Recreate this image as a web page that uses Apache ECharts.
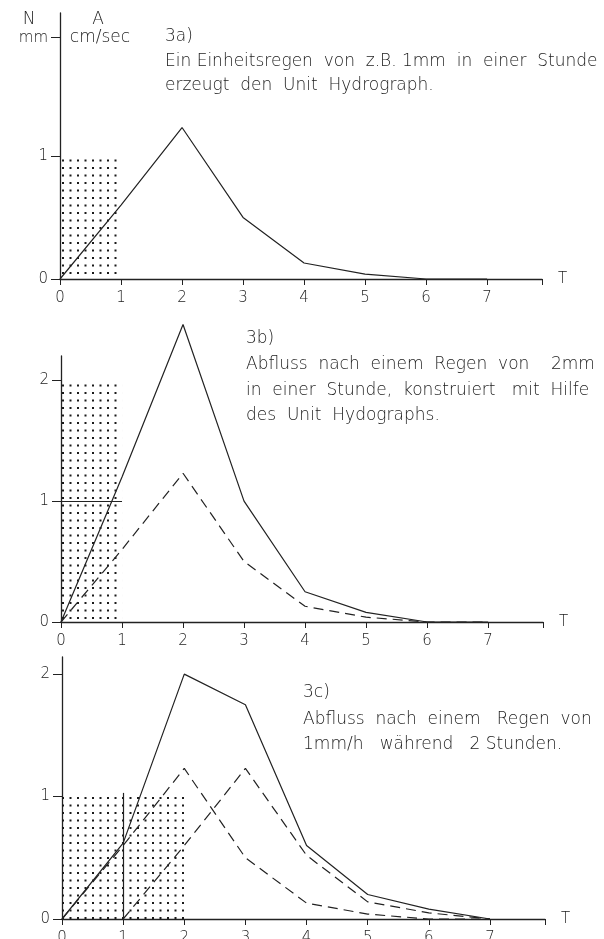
<!DOCTYPE html>
<html>
<head>
<meta charset="utf-8">
<script src="https://cdn.jsdelivr.net/npm/echarts@6/dist/echarts.min.js"></script>
<style>
  html, body { margin: 0; padding: 0; background: #fff; }
  #chart { width: 604px; height: 939px; }
</style>
</head>
<body>
<div id="chart"></div>
<script>
// Zeit in Stunden
var hours = [0, 1, 2, 3, 4, 5, 6, 7];
var xTickLabels = ['0', '1', '2', '3', '4', '5', '6', '7'];

// 3a) Unit Hydrograph (1mm in 1 Stunde)
var unitHydrograph = [0, 0.6, 1.23, 0.5, 0.13, 0.04, 0, 0];
// 3b) 2mm in einer Stunde
var runoff2mm = [0, 1.2, 2.46, 1.0, 0.25, 0.08, 0, 0];
// 3c) 1mm/h waehrend 2 Stunden
var unitShifted = [null, 0, 0.6, 1.23, 0.52, 0.14, 0.05, 0];
var runoff2h = [0, 0.62, 2.0, 1.75, 0.6, 0.2, 0.08, 0];

// Regenbloecke [x0, y0, x1, y1]
var rainA = [0, 0, 1, 1];
var rainB = [0, 0, 1, 2];
var rainC = [0, 0, 2, 1];

var yTicksA = [0, 1, 1.96];
var yTicksB = [0, 1, 2];
var yTicksC = [0, 1, 2];

var INK = '#222';
var TXT = '#1c1c1c';
var FONT = 'DejaVu Sans';

var myChart = echarts.init(document.getElementById('chart'), null, { renderer: 'canvas' });

// Punktraster fuer den Regen
var cv = document.createElement('canvas');
cv.width = 15; cv.height = 15;
var ctx = cv.getContext('2d');
ctx.fillStyle = '#1a1a1a';
[[2, 2], [9.5, 2], [2, 9.5], [9.5, 9.5]].forEach(function (p) {
  ctx.fillRect(p[0], p[1], 2, 2);
});
var dots = { image: cv, repeat: 'repeat' };

function pairs(xs, ys) {
  var out = [];
  xs.forEach(function (x, i) { if (ys[i] != null) out.push([x, ys[i]]); });
  return out;
}

function rainArea(r) {
  return {
    silent: true,
    itemStyle: { color: dots },
    data: [[{ coord: [r[0], r[1]] }, { coord: [r[2], r[3]] }]]
  };
}

function xAxisFor(idx) {
  return {
    type: 'value', gridIndex: idx, min: 0, max: 7.9, interval: 1,
    name: 'T', nameLocation: 'end', nameGap: 16,
    nameTextStyle: { color: TXT, fontFamily: FONT, fontSize: 15, fontWeight: 300 },
    axisLine: { show: true, onZero: false, lineStyle: { color: INK, width: 1.3 } },
    axisTick: { show: true, inside: false, length: 6, lineStyle: { color: INK } },
    axisLabel: {
      margin: 12, color: TXT, fontFamily: FONT, fontSize: 15, fontWeight: 300,
      formatter: function (v) { return xTickLabels[hours.indexOf(v)] || ''; }
    },
    splitLine: { show: false }
  };
}

function yAxisFor(idx, max, ticks) {
  return {
    type: 'value', gridIndex: idx, min: 0, max: max,
    axisLine: { show: true, onZero: false, lineStyle: { color: INK, width: 1.3 } },
    axisTick: { show: true, length: 9, customValues: ticks, lineStyle: { color: INK } },
    axisLabel: {
      margin: 12, color: TXT, fontFamily: FONT, fontSize: 15, fontWeight: 300,
      customValues: ticks,
      formatter: function (v) { return v > 1.5 && v < 2 ? 'mm' : String(v); }
    },
    splitLine: { show: false }
  };
}

function lineSeries(idx, data, dashed, extra) {
  var s = {
    type: 'line', xAxisIndex: idx, yAxisIndex: idx,
    data: data, symbol: 'none', silent: true, clip: false,
    lineStyle: { color: INK, width: 1.2, type: dashed ? [10, 6] : 'solid' }
  };
  if (extra) Object.keys(extra).forEach(function (k) { s[k] = extra[k]; });
  return s;
}

function txt(x, y, s, align) {
  return {
    type: 'text', x: x, y: y, silent: true,
    style: {
      text: s, fill: TXT, font: '300 17px "' + FONT + '"',
      textAlign: align || 'left', textVerticalAlign: 'middle'
    }
  };
}

var option = {
  backgroundColor: '#fff',
  animation: false,
  grid: [
    { left: 60, width: 482, top: 13, height: 266, containLabel: false, outerBoundsMode: 'none' },
    { left: 61, width: 482, top: 356, height: 266, containLabel: false, outerBoundsMode: 'none' },
    { left: 62, width: 483, top: 657, height: 262, containLabel: false, outerBoundsMode: 'none' }
  ],
  xAxis: [xAxisFor(0), xAxisFor(1), xAxisFor(2)],
  yAxis: [
    yAxisFor(0, 2.16, yTicksA),
    yAxisFor(1, 2.2, yTicksB),
    yAxisFor(2, 2.14, yTicksC)
  ],
  series: [
    // 3a
    lineSeries(0, pairs(hours, unitHydrograph), false, { markArea: rainArea(rainA) }),
    // 3b
    lineSeries(1, pairs(hours, unitHydrograph), true, { markArea: rainArea(rainB) }),
    lineSeries(1, pairs(hours, runoff2mm), false, {
      markLine: {
        silent: true, symbol: 'none', label: { show: false },
        lineStyle: { color: INK, width: 1.2, type: 'solid' },
        data: [[{ coord: [rainB[0], 1] }, { coord: [rainB[2], 1] }]]
      }
    }),
    // 3c
    lineSeries(2, pairs(hours, unitHydrograph), true, { markArea: rainArea(rainC) }),
    lineSeries(2, pairs(hours, unitShifted), true),
    lineSeries(2, pairs(hours, runoff2h), false, {
      markLine: {
        silent: true, symbol: 'none', label: { show: false },
        lineStyle: { color: INK, width: 1.2, type: 'solid' },
        data: [[{ coord: [1, 0] }, { coord: [1, 1.03] }]]
      }
    })
  ],
  graphic: [
    txt(29, 20, 'N', 'center'),
    txt(98, 20, 'A', 'center'),
    txt(100, 38, 'cm/sec', 'center'),
    txt(165, 37, '3a)'),
    txt(165, 62, 'Ein Einheitsregen  von  z.B. 1mm  in  einer  Stunde'),
    txt(165, 86, 'erzeugt  den  Unit  Hydrograph.'),
    txt(246, 339, '3b)'),
    txt(246, 365, 'Abfluss  nach  einem  Regen  von    2mm'),
    txt(246, 391, 'in  einer  Stunde,  konstruiert   mit  Hilfe'),
    txt(246, 416, 'des  Unit  Hydographs.'),
    txt(303, 693, '3c)'),
    txt(303, 720, 'Abfluss  nach  einem   Regen  von'),
    txt(303, 745, '1mm/h   während   2 Stunden.')
  ]
};

myChart.setOption(option);
</script>
</body>
</html>
